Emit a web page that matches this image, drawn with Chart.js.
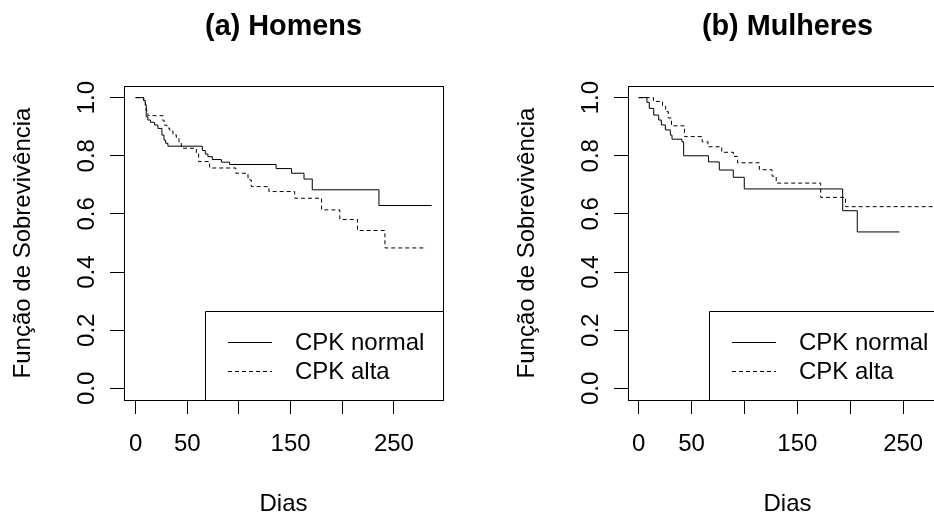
<!DOCTYPE html>
<html>
<head>
<meta charset="utf-8">
<script src="https://cdn.jsdelivr.net/npm/chart.js@4.4.1/dist/chart.umd.min.js"></script>
<style>
  html, body { margin: 0; padding: 0; background: #fff; overflow: hidden; }
  #wrap { position: relative; width: 934px; height: 516px; overflow: hidden; }
  .panel { position: absolute; top: 0; width: 504px; height: 516px; }
</style>
</head>
<body>
<div id="wrap">
  <div class="panel" style="left:0"><canvas id="chartHomens" width="504" height="516"></canvas></div>
  <div class="panel" style="left:504px"><canvas id="chartMulheres" width="504" height="516"></canvas></div>
</div>
<script>
/* ---------- axes ---------- */
const xTicks = [0, 50, 100, 150, 200, 250];
const xTickLabels = ['0', '50', '', '150', '', '250'];
const yTicks = [0, 0.2, 0.4, 0.6, 0.8, 1.0];
const yTickLabels = ['0.0', '0.2', '0.4', '0.6', '0.8', '1.0'];
const seriesLabels = ['CPK normal', 'CPK alta'];
const panelTitles = ['(a) Homens', '(b) Mulheres'];

/* ---------- Kaplan-Meier steps (dias, sobrevivencia apos o evento) ---------- */
const homensNormalDias = [0, 7.7, 9.4, 10.3, 11.9, 14.5, 18.4, 21.6, 25.5, 27.5, 29.1, 31.3, 64.6, 67.5, 70, 74.3, 83, 91, 136, 151, 163, 171, 235.5, 286.5];
const homensNormalSobrev = [1.0, 0.99, 0.975, 0.934, 0.923, 0.915, 0.906, 0.894, 0.871, 0.854, 0.843, 0.833, 0.818, 0.806, 0.797, 0.787, 0.778, 0.770, 0.756, 0.740, 0.720, 0.683, 0.629, 0.629];

const homensAltaDias = [0, 8, 9.4, 10.3, 11.9, 26.5, 28.1, 30.4, 33, 36.2, 39.4, 42, 44.3, 58.8, 61, 71.7, 97, 108.8, 112, 129, 154, 180, 197.7, 214.8, 241.3, 281.5];
const homensAltaSobrev = [1.0, 0.99, 0.975, 0.955, 0.938, 0.92, 0.905, 0.895, 0.885, 0.872, 0.86, 0.843, 0.826, 0.809, 0.78, 0.758, 0.74, 0.717, 0.694, 0.677, 0.654, 0.614, 0.581, 0.543, 0.483, 0.483];

const mulheresNormalDias = [0, 7.8, 10, 14.2, 18.9, 21.4, 25.2, 29.9, 31.5, 40.9, 42.5, 66, 76.2, 89.4, 99.8, 192.8, 206.6, 246.3];
const mulheresNormalSobrev = [1.0, 0.984, 0.963, 0.94, 0.923, 0.906, 0.889, 0.871, 0.857, 0.848, 0.80, 0.779, 0.751, 0.726, 0.686, 0.611, 0.538, 0.538];

const mulheresAltaDias = [0, 14, 22.5, 25.5, 28, 31, 43.3, 60, 65.5, 78.5, 89.5, 93.5, 114, 126, 130, 172, 195.5, 280];
const mulheresAltaSobrev = [1.0, 0.987, 0.97, 0.952, 0.93, 0.903, 0.866, 0.848, 0.831, 0.812, 0.798, 0.776, 0.752, 0.73, 0.706, 0.657, 0.625, 0.625];

const FONT = '"Liberation Sans", Arial, Helvetica, sans-serif';
Chart.defaults.font.family = FONT;
Chart.defaults.color = '#000';

const pts = (t, s) => t.map((x, i) => ({ x: x, y: s[i] }));

/* box, title and legend drawn R-style */
const rPanel = {
    id: 'rPanel',
    afterDraw(chart, args, opts) {
        const { ctx, chartArea: a } = chart;
        ctx.save();
        ctx.strokeStyle = '#000';
        ctx.lineWidth = 1;
        ctx.setLineDash([]);
        ctx.strokeRect(Math.round(a.left) + 0.5, Math.round(a.top) + 0.5,
                       Math.round(a.right - a.left), Math.round(a.bottom - a.top));

        // title
        ctx.fillStyle = '#000';
        ctx.font = 'bold 28.8px ' + FONT;
        ctx.textAlign = 'center';
        ctx.textBaseline = 'middle';
        ctx.fillText(opts.title, (a.left + a.right) / 2, 27);

        // legend, bottom right
        const lx = Math.round(a.right) - 238;
        const ly = Math.round(a.bottom) - 89;
        ctx.beginPath();
        ctx.moveTo(lx + 0.5, Math.round(a.bottom) + 0.5);
        ctx.lineTo(lx + 0.5, ly + 0.5);
        ctx.lineTo(Math.round(a.right) + 0.5, ly + 0.5);
        ctx.stroke();

        ctx.font = '24px ' + FONT;
        ctx.textAlign = 'left';
        chart.data.datasets.forEach((ds, i) => {
            const y = ly + 31 + i * 29;
            ctx.setLineDash(ds.borderDash || []);
            ctx.beginPath();
            ctx.moveTo(lx + 23, y + 0.5);
            ctx.lineTo(lx + 67, y + 0.5);
            ctx.stroke();
            ctx.fillText(ds.label, lx + 90, y + 1);
        });
        ctx.restore();
    }
};

function makePanel(id, title, xMin, xMax, normal, alta) {
    new Chart(document.getElementById(id), {
        type: 'line',
        data: {
            datasets: [
                { label: seriesLabels[0], data: normal, borderColor: '#000', borderWidth: 1,
                  pointRadius: 0, stepped: true, fill: false },
                { label: seriesLabels[1], data: alta, borderColor: '#000', borderWidth: 1,
                  borderDash: [4, 3], pointRadius: 0, stepped: true, fill: false }
            ]
        },
        options: {
            responsive: false,
            animation: false,
            events: [],
            layout: { padding: { top: 86, right: 61, left: 0, bottom: 0 } },
            plugins: {
                legend: { display: false },
                tooltip: { enabled: false },
                rPanel: { title: title }
            },
            scales: {
                x: {
                    type: 'linear',
                    min: xMin,
                    max: xMax,
                    afterBuildTicks: s => { s.ticks = xTicks.map(v => ({ value: v })); },
                    afterFit: s => { s.height = 116; },
                    grid: { drawOnChartArea: false, tickLength: 14, color: '#000' },
                    border: { display: false },
                    ticks: {
                        autoSkip: false, maxRotation: 0, padding: 16,
                        font: { size: 24 },
                        callback: (v, i) => xTickLabels[i]
                    },
                    title: { display: true, text: 'Dias', font: { size: 24, lineHeight: 1 },
                             padding: { top: 0, bottom: 0 } }
                },
                y: {
                    type: 'linear',
                    min: -0.04,
                    max: 1.04,
                    afterBuildTicks: s => { s.ticks = yTicks.map(v => ({ value: v })); },
                    afterFit: s => { s.width = 124; },
                    grid: { drawOnChartArea: false, tickLength: 14, color: '#000' },
                    border: { display: false },
                    ticks: {
                        autoSkip: false, minRotation: 90, maxRotation: 90,
                        crossAlign: 'center', padding: 6,
                        font: { size: 24 },
                        callback: (v, i) => yTickLabels[i]
                    },
                    title: { display: true, text: 'Função de Sobrevivência',
                             font: { size: 24, lineHeight: 1 }, padding: { top: 11, bottom: 0 } }
                }
            }
        },
        plugins: [rPanel]
    });
}

makePanel('chartHomens', panelTitles[0], -11.2, 297.5,
          pts(homensNormalDias, homensNormalSobrev), pts(homensAltaDias, homensAltaSobrev));
makePanel('chartMulheres', panelTitles[1], -10.1, 291.4,
          pts(mulheresNormalDias, mulheresNormalSobrev), pts(mulheresAltaDias, mulheresAltaSobrev));
</script>
</body>
</html>
